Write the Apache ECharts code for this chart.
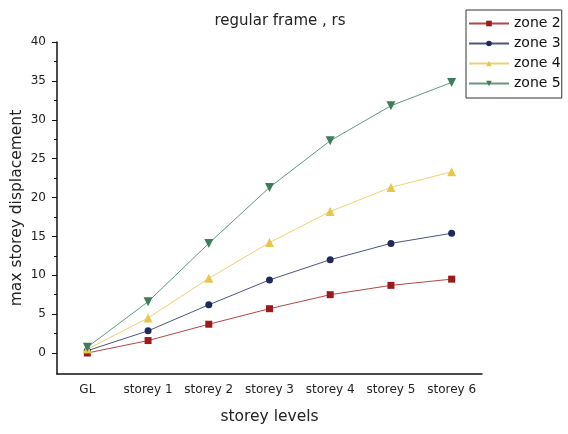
<!DOCTYPE html>
<html>
<head>
<meta charset="utf-8">
<script src="https://cdn.jsdelivr.net/npm/echarts@6/dist/echarts.min.js"></script>
<style>
html, body { margin: 0; padding: 0; background: #fff; }
#chart { width: 568px; height: 434px; }
</style>
</head>
<body>
<div id="chart"></div>
<script>
var categories = ['GL', 'storey 1', 'storey 2', 'storey 3', 'storey 4', 'storey 5', 'storey 6'];
var zone2 = [0, 1.6, 3.7, 5.7, 7.5, 8.7, 9.5];
var zone3 = [0.3, 2.85, 6.2, 9.4, 12.0, 14.1, 15.4];
var zone4 = [0.5, 4.5, 9.6, 14.2, 18.2, 21.3, 23.3];
var zone5 = [0.75, 6.6, 14.1, 21.3, 27.3, 31.8, 34.8];
var majorTicks = [0, 5, 10, 15, 20, 25, 30, 35, 40];
var minorTicks = [2.5, 7.5, 12.5, 17.5, 22.5, 27.5, 32.5, 37.5];

var font = 'DejaVu Sans, sans-serif';
var chart = echarts.init(document.getElementById('chart'));

function line(name, data, color, symbol, size, rotate) {
    return {
        name: name,
        type: 'line',
        data: data,
        symbol: symbol,
        symbolSize: size,
        symbolRotate: rotate || 0,
        showAllSymbol: true,
        itemStyle: { color: color },
        lineStyle: { color: color, width: 1, opacity: 0.8 },
        xAxisIndex: 0,
        yAxisIndex: 0
    };
}

var option = {
    animation: false,
    backgroundColor: '#fff',
    title: {
        text: 'regular frame , rs',
        left: 275,
        textAlign: 'center',
        top: 9,
        textStyle: { fontFamily: font, fontSize: 15, fontWeight: 'normal', color: '#222' }
    },
    legend: {
        orient: 'vertical',
        left: 466,
        top: 10,
        padding: [6, 1, 7, 2],
        itemGap: 5,
        itemWidth: 40,
        itemHeight: 7,
        borderColor: '#333',
        borderWidth: 1,
        textStyle: { fontFamily: font, fontSize: 14, lineHeight: 15, color: '#111' },
        data: ['zone 2', 'zone 3', 'zone 4', 'zone 5']
    },
    grid: { left: 57, right: 86, top: 42, bottom: 60, outerBoundsMode: 'none', containLabel: false },
    xAxis: [{
        type: 'category',
        data: categories,
        boundaryGap: true,
        name: 'storey levels',
        nameLocation: 'middle',
        nameGap: 35,
        nameMoveOverlap: false,
        nameTextStyle: { fontFamily: font, fontSize: 15.5, color: '#222' },
        axisLine: { onZero: false, lineStyle: { color: '#111', width: 1.5 } },
        axisTick: { alignWithLabel: true, interval: 0, length: 5, lineStyle: { color: '#111' } },
        axisLabel: { fontFamily: font, fontSize: 12, color: '#222', margin: 10, interval: 0 },
        splitLine: { show: false }
    }, {
        type: 'category',
        data: categories,
        boundaryGap: true,
        position: 'bottom',
        axisLine: { show: false, onZero: false },
        axisTick: { interval: 0, length: 3, lineStyle: { color: '#111' } },
        axisLabel: { show: false },
        splitLine: { show: false }
    }],
    yAxis: [{
        type: 'value',
        min: -2.7,
        max: 40,
        name: 'max storey displacement',
        nameLocation: 'middle',
        nameGap: 32,
        nameMoveOverlap: false,
        nameTextStyle: { fontFamily: font, fontSize: 15.5, color: '#222' },
        axisLine: { show: true, onZero: false, lineStyle: { color: '#111', width: 1.5 } },
        axisTick: { show: true, length: 5, customValues: majorTicks, lineStyle: { color: '#111' } },
        axisLabel: { fontFamily: font, fontSize: 12, color: '#222', margin: 11, customValues: majorTicks },
        splitLine: { show: false }
    }, {
        type: 'value',
        min: -2.7,
        max: 40,
        position: 'left',
        axisLine: { show: false, onZero: false },
        axisTick: { show: true, length: 3, customValues: minorTicks, lineStyle: { color: '#111' } },
        axisLabel: { show: false },
        splitLine: { show: false }
    }],
    series: [
        line('zone 2', zone2, '#9e1a1a', 'rect', 7),
        line('zone 3', zone3, '#1e2a5e', 'circle', 7),
        line('zone 4', zone4, '#e8c64e', 'triangle', 9),
        line('zone 5', zone5, '#3e7d5c', 'triangle', 9, 180)
    ]
};

chart.setOption(option);
</script>
</body>
</html>
